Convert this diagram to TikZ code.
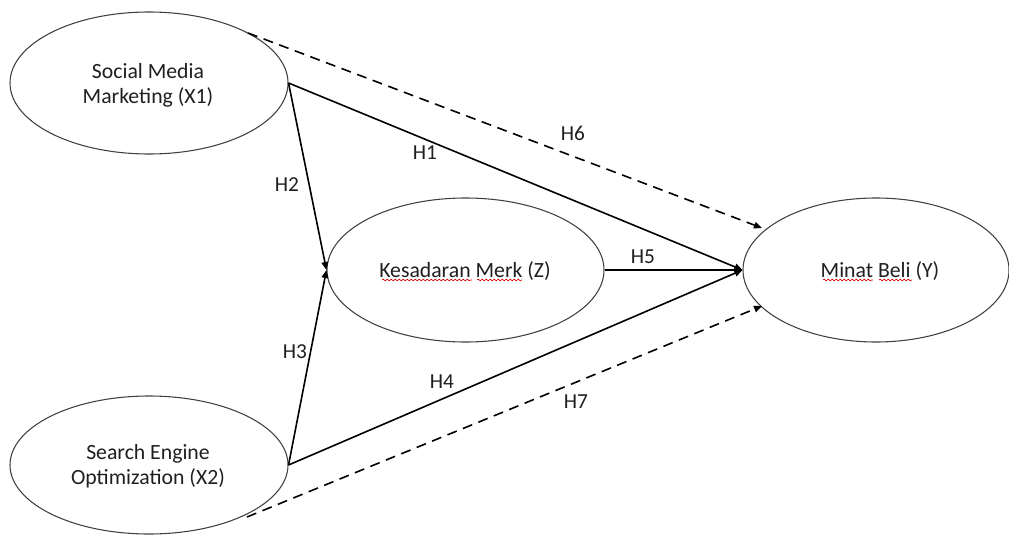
\documentclass[tikz,border=0pt]{standalone}
\usepackage{fontspec}
\setmainfont{Carlito}
\usetikzlibrary{arrows.meta,shapes.geometric,decorations.pathmorphing}
\begin{document}
\begin{tikzpicture}[x=0.75pt,y=-0.75pt,
  latent/.style={draw=black!75, line width=0.8pt, ellipse, inner sep=0pt},
  txt/.style={font=\fontsize{16.3}{18.75}\selectfont, text=black!88, align=center, inner sep=0pt},
  conn/.style={draw=black, line width=1.2pt, -{Triangle[length=6pt,width=5pt]}},
  dconn/.style={conn, dash pattern=on 7.5pt off 5pt},
  lbl/.style={font=\fontsize{16}{18.75}\selectfont, text=black!88, inner sep=0pt},
  wavy/.style={draw=red!85!black, line width=0.5pt, decorate, decoration={snake, amplitude=0.6pt, segment length=3pt}}]
\useasboundingbox (0,0) rectangle (1009,535);
% latent variables
\node[latent, minimum width=208.5pt, minimum height=106.5pt] (x1) at (149,83) {};
\node[latent, minimum width=208.5pt, minimum height=103.5pt] (x2) at (149,465) {};
\node[latent, minimum width=207.75pt, minimum height=108pt] (z) at (465.5,270) {};
\node[latent, minimum width=199.5pt, minimum height=108pt] (y) at (876,270) {};
% texts
\node[txt] (x1t) at (148,85) {Social Media\\Marketing (X1)};
\node[txt] (x2t) at (148,466) {Search Engine\\Optimization (X2)};
\node[txt] (zt) at (465,271) {Kesadaran Merk (Z)};
\node[txt] (yt) at (880,271) {Minat Beli (Y)};
% spellcheck squiggles
\draw[wavy] (382,280) -- (472,280);
\draw[wavy] (477,280) -- (522,280);
\draw[wavy] (823,280) -- (873,280);
\draw[wavy] (879,280) -- (912,280);
% dashed endpoints
\coordinate (h6s) at (248,33);
\coordinate (h6e) at (762,228);
\coordinate (h7s) at (247,517);
\coordinate (h7e) at (762,306);
% connectors
\draw[conn] (x1.east) -- (y.west);
\draw[conn] (x1.east) -- (z.west);
\draw[conn] (x2.east) -- (z.west);
\draw[conn] (x2.east) -- (y.west);
\draw[conn] (z.east) -- (y.west);
\draw[dconn] (h6s) -- (h6e);
\draw[dconn] (h7s) -- (h7e);
% labels
\node[lbl] (l1) at (425,153) {H1};
\node[lbl] (l2) at (287,185) {H2};
\node[lbl] (l3) at (295,352) {H3};
\node[lbl] (l4) at (442,382) {H4};
\node[lbl] (l5) at (643,257) {H5};
\node[lbl] (l6) at (573,133) {H6};
\node[lbl] (l7) at (576,402) {H7};
\end{tikzpicture}
\end{document}
